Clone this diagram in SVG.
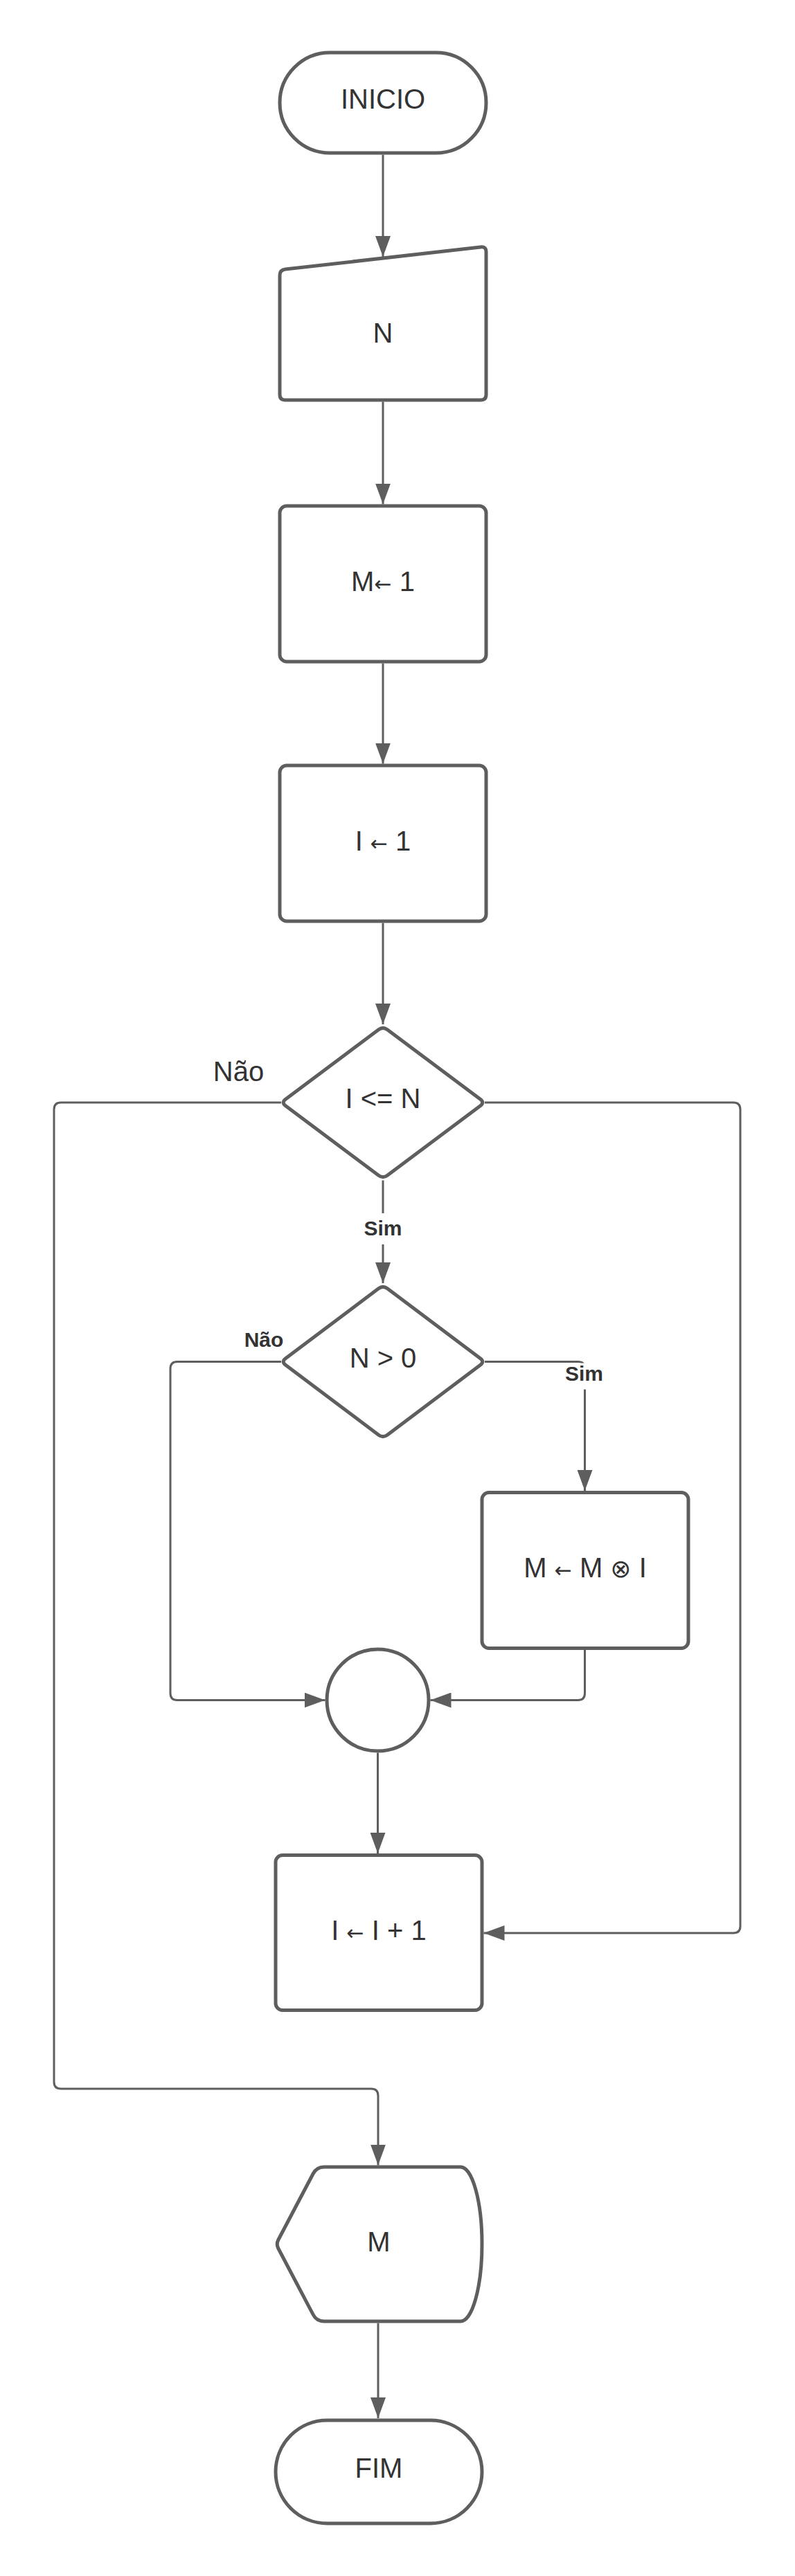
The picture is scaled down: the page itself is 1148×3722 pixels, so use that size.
<svg xmlns="http://www.w3.org/2000/svg" width="1148" height="3722" viewBox="0 0 1148 3722">
<defs>
<style>
.shape{fill:#ffffff;stroke:#5e5e5e;stroke-width:5;stroke-linejoin:round}
.conn{fill:none;stroke:#5e5e5e;stroke-width:3;marker-end:url(#ah)}
.t{font-family:"Liberation Sans",Arial,"DejaVu Sans",sans-serif;font-size:40px;fill:#333333;text-anchor:middle}
.lb{font-family:"Liberation Sans",Arial,sans-serif;font-size:30px;font-weight:bold;fill:#333333;text-anchor:middle}
.ar{font-family:"DejaVu Sans",sans-serif;font-size:30px}
.sym{font-family:"DejaVu Sans",sans-serif;font-size:36px}
</style>
<marker id="ah" markerUnits="userSpaceOnUse" markerWidth="30" markerHeight="22" viewBox="0 0 30 22" refX="30" refY="11" orient="auto">
<path d="M0,0 L30,11 L0,22 Z" fill="#5e5e5e"/>
</marker>
</defs>
<rect width="1148" height="3722" fill="#ffffff"/>

<g id="connectors">
<path class="conn" d="M553,223.5 V371"/>
<path class="conn" d="M553,580.5 V728.5"/>
<path class="conn" d="M553,958.5 V1103.5"/>
<path class="conn" d="M553,1333.5 V1480"/>
<path class="conn" d="M553,1705.5 V1854"/>
<path class="conn" d="M700,1967.5 H834.5 Q844.5,1967.5 844.5,1977.5 V2154"/>
<path class="conn" d="M406,1967.5 H256 Q246,1967.5 246,1977.5 V2446.5 Q246,2456.5 256,2456.5 H469.5"/>
<path class="conn" d="M844.5,2383.5 V2446.5 Q844.5,2456.5 834.5,2456.5 H621.5"/>
<path class="conn" d="M545.5,2532.5 V2678"/>
<path class="conn" d="M700,1593 H1059 Q1069,1593 1069,1603 V2783 Q1069,2793 1059,2793 H698.5"/>
<path class="conn" d="M406,1593 H88 Q78,1593 78,1603 V3008 Q78,3018 88,3018 H536 Q546,3018 546,3028 V3128.5"/>
<path class="conn" d="M546,3356.5 V3494"/>
</g>

<g id="labels">
<text class="t" x="344.5" y="1562">Não</text>
<rect x="524" y="1753" width="58" height="45" fill="#ffffff"/>
<text class="lb" x="553" y="1785">Sim</text>
<text class="lb" x="381" y="1946">Não</text>
<rect x="815" y="1969.5" width="58" height="38" fill="#ffffff"/>
<text class="lb" x="843.5" y="1995">Sim</text>
</g>

<g id="inicio">
<rect class="shape" x="404" y="76" width="298" height="145" rx="72.5" ry="72.5"/>
<text class="t" x="553" y="157">INICIO</text>
</g>

<g id="entrada-n">
<path class="shape" d="M404,398 Q404,390 412,389.1 L694,356.9 Q702,356 702,364 V570 Q702,578 694,578 H412 Q404,578 404,570 Z"/>
<text class="t" x="553" y="495">N</text>
</g>

<g id="m-recebe-1">
<rect class="shape" x="404" y="731" width="298" height="225" rx="10" ry="10"/>
<text class="t" x="553" y="854">M<tspan class="ar">←</tspan> 1</text>
</g>

<g id="i-recebe-1">
<rect class="shape" x="404" y="1106" width="298" height="225" rx="10" ry="10"/>
<text class="t" x="553" y="1229">I <tspan class="ar">←</tspan> 1</text>
</g>

<g id="decisao-i-n">
<path class="shape" d="M546.6,1487.8 Q553,1483 559.4,1487.8 L693.6,1588.2 Q700,1593 693.6,1597.8 L559.4,1698.2 Q553,1703 546.6,1698.2 L412.4,1597.8 Q406,1593 412.4,1588.2 Z"/>
<text class="t" x="553" y="1601">I &lt;= N</text>
</g>

<g id="decisao-n-0">
<path class="shape" d="M546.6,1861.8 Q553,1857 559.4,1861.8 L693.6,1962.7 Q700,1967.5 693.6,1972.3 L559.4,2073.2 Q553,2078 546.6,2073.2 L412.4,1972.3 Q406,1967.5 412.4,1962.7 Z"/>
<text class="t" x="553" y="1976">N &gt; 0</text>
</g>

<g id="m-recebe-m-vezes-i">
<rect class="shape" x="696" y="2156.5" width="298" height="225" rx="10" ry="10"/>
<text class="t" x="845" y="2279">M <tspan class="ar">←</tspan> M <tspan class="sym">⊗</tspan> I</text>
</g>

<g id="juncao">
<circle class="shape" cx="545.5" cy="2456.5" r="73.5"/>
</g>

<g id="i-recebe-i-mais-1">
<rect class="shape" x="398" y="2680.5" width="298" height="224" rx="10" ry="10"/>
<text class="t" x="547" y="2803">I <tspan class="ar">←</tspan> I + 1</text>
</g>

<g id="saida-m">
<path class="shape" d="M402,3236 L452,3141 Q457,3131 468,3131 H665 A31,111.5 0 0 1 665,3354 H468 Q457,3354 452,3344 L402,3249 Q398.5,3242.5 402,3236 Z"/>
<text class="t" x="547" y="3253">M</text>
</g>

<g id="fim">
<rect class="shape" x="398" y="3497" width="298" height="149" rx="74.5" ry="74.5"/>
<text class="t" x="547" y="3580">FIM</text>
</g>
</svg>
